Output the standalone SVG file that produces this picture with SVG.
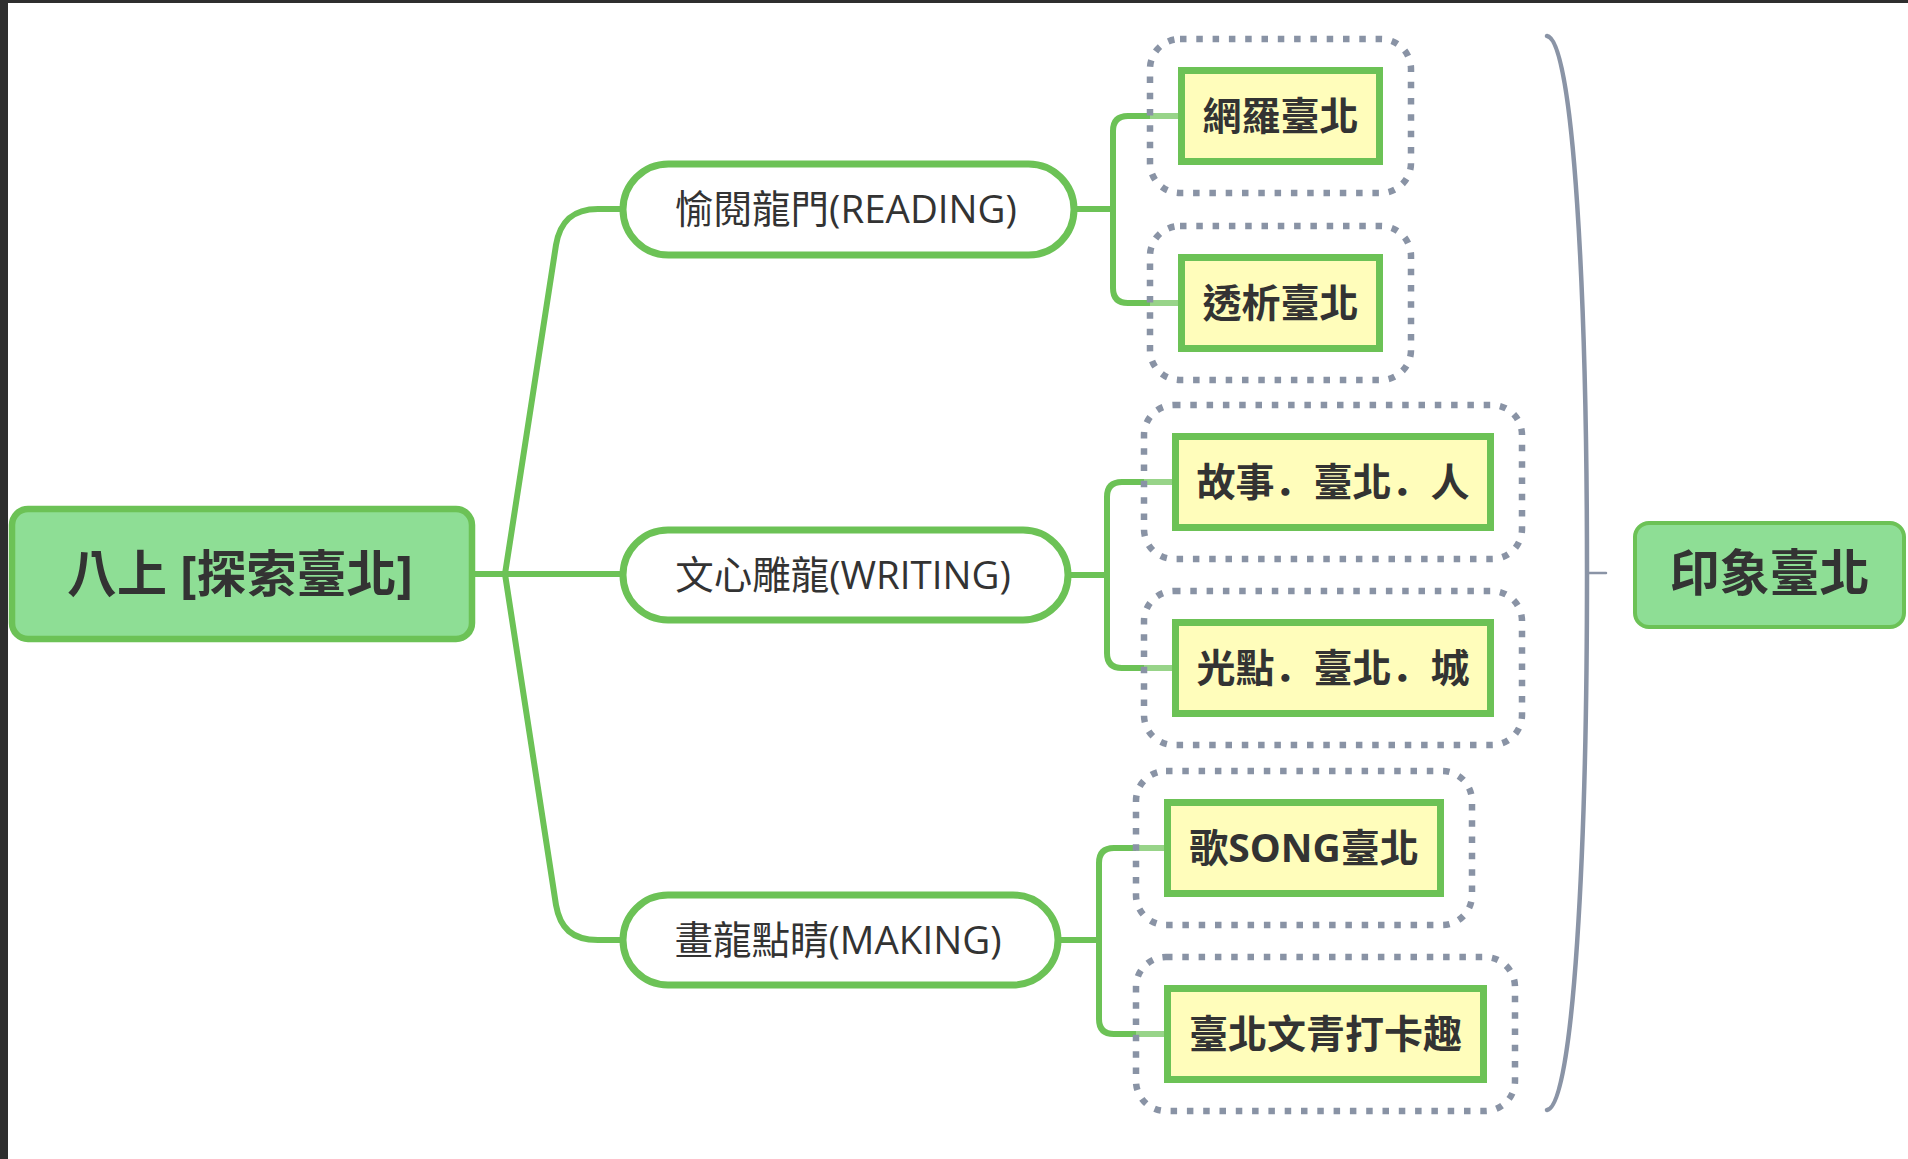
<svg xmlns="http://www.w3.org/2000/svg" width="1908" height="1159" viewBox="0 0 1908 1159">
<style>
.conn{fill:none;stroke:#6CC256;stroke-width:6;stroke-linecap:butt;stroke-linejoin:round}
.root{fill:#8EDE95;stroke:#6CC256;stroke-width:6.5}
.pill{fill:#fff;stroke:#6CC256;stroke-width:7}
.box{fill:#FFFDBB;stroke:#6CC256;stroke-width:7}
.bnd{fill:#FFFFFF;fill-opacity:0.3;stroke:#8993A5;stroke-width:6.5;stroke-dasharray:6.5 9.8}
.brace{fill:none;stroke:#8A94A6;stroke-width:4.5;stroke-linecap:round}
.t{font-family:"Open Sans","Noto Sans CJK TC",sans-serif;fill:#333;text-anchor:middle}
.jp{font-family:"Noto Sans CJK JP",sans-serif}
.l1{font-size:38.5px;font-weight:400}
.l2{font-size:39px;font-weight:700}
.big{font-size:50px;font-weight:700}
</style>
<rect x="0" y="0" width="1908" height="1159" fill="#fff"/>
<rect x="0" y="0" width="1908" height="3" fill="#2e2e2e"/>
<rect x="0" y="0" width="8" height="1159" fill="#2e2e2e"/>

<g id="connectors">
  <path class="conn" d="M 472 574 H 620"/>
  <path class="conn" d="M 505 574 L 556 245 C 560 222 572 209 598 209 H 620"/>
  <path class="conn" d="M 505 574 L 556 905 C 560 928 572 940 598 940 H 620"/>
  <path class="conn" d="M 1077 209 H 1113"/>
  <path class="conn" d="M 1178 116 H 1128 Q 1113 116 1113 131 V 288 Q 1113 303 1128 303 H 1178"/>
  <path class="conn" d="M 1071 575 H 1107"/>
  <path class="conn" d="M 1172 482 H 1122 Q 1107 482 1107 497 V 653 Q 1107 668 1122 668 H 1172"/>
  <path class="conn" d="M 1061 940 H 1099"/>
  <path class="conn" d="M 1164 848 H 1114 Q 1099 848 1099 863 V 1019 Q 1099 1034 1114 1034 H 1164"/>
  <path class="brace" d="M 1547 36 C 1574 40 1587 300 1587 573 C 1587 846 1574 1106 1547 1110"/>
  <path class="brace" d="M 1587 573 H 1606" style="stroke-width:2.5"/>
</g>

<g id="root">
  <rect class="root" x="12" y="509" width="460" height="130" rx="16"/>
  <text class="t big" x="240" y="592">八上 [探索臺北]</text>
</g>

<g id="reading">
  <rect class="pill" x="623" y="164" width="451" height="91" rx="45.5"/>
  <text class="t l1" x="846" y="223">愉閱龍門(READING)</text>
</g>
<g id="writing">
  <rect class="pill" x="623" y="530" width="445" height="90" rx="45"/>
  <text class="t l1" x="843" y="589">文心雕龍(WRITING)</text>
</g>
<g id="making">
  <rect class="pill" x="623" y="895" width="435" height="90" rx="45"/>
  <text class="t l1" x="838" y="954">畫龍點睛(MAKING)</text>
</g>

<g id="n-wangluo">
  <rect class="bnd" x="1150" y="39" width="261" height="154" rx="30"/>
  <rect class="box" x="1181.5" y="70.5" width="198" height="91"/>
  <text class="t l2" x="1280.5" y="130">網羅臺北</text>
</g>
<g id="n-touxi">
  <rect class="bnd" x="1150" y="226" width="261" height="154" rx="30"/>
  <rect class="box" x="1181.5" y="257.5" width="198" height="91"/>
  <text class="t l2" x="1280.5" y="317">透析臺北</text>
</g>
<g id="n-gushi">
  <rect class="bnd" x="1144" y="405" width="378" height="154" rx="30"/>
  <rect class="box" x="1175.5" y="436.5" width="315" height="91"/>
  <text class="t l2" x="1333" y="496">故事<tspan class="jp">．</tspan>臺北<tspan class="jp">．</tspan>人</text>
</g>
<g id="n-guangdian">
  <rect class="bnd" x="1144" y="591" width="378" height="154" rx="30"/>
  <rect class="box" x="1175.5" y="622.5" width="315" height="91"/>
  <text class="t l2" x="1333" y="682">光點<tspan class="jp">．</tspan>臺北<tspan class="jp">．</tspan>城</text>
</g>
<g id="n-song">
  <rect class="bnd" x="1136" y="771" width="336" height="154" rx="30"/>
  <rect class="box" x="1167.5" y="802.5" width="273" height="91"/>
  <text class="t l2" x="1304" y="862">歌SONG臺北</text>
</g>
<g id="n-wenqing">
  <rect class="bnd" x="1136" y="957" width="379" height="154" rx="30"/>
  <rect class="box" x="1167.5" y="988.5" width="316" height="91"/>
  <text class="t l2" x="1325.5" y="1048">臺北文青打卡趣</text>
</g>

<g id="summary">
  <rect class="root" x="1635" y="523" width="269" height="104" rx="14" style="stroke-width:4"/>
  <text class="t big" x="1769.5" y="591">印象臺北</text>
</g>
</svg>
